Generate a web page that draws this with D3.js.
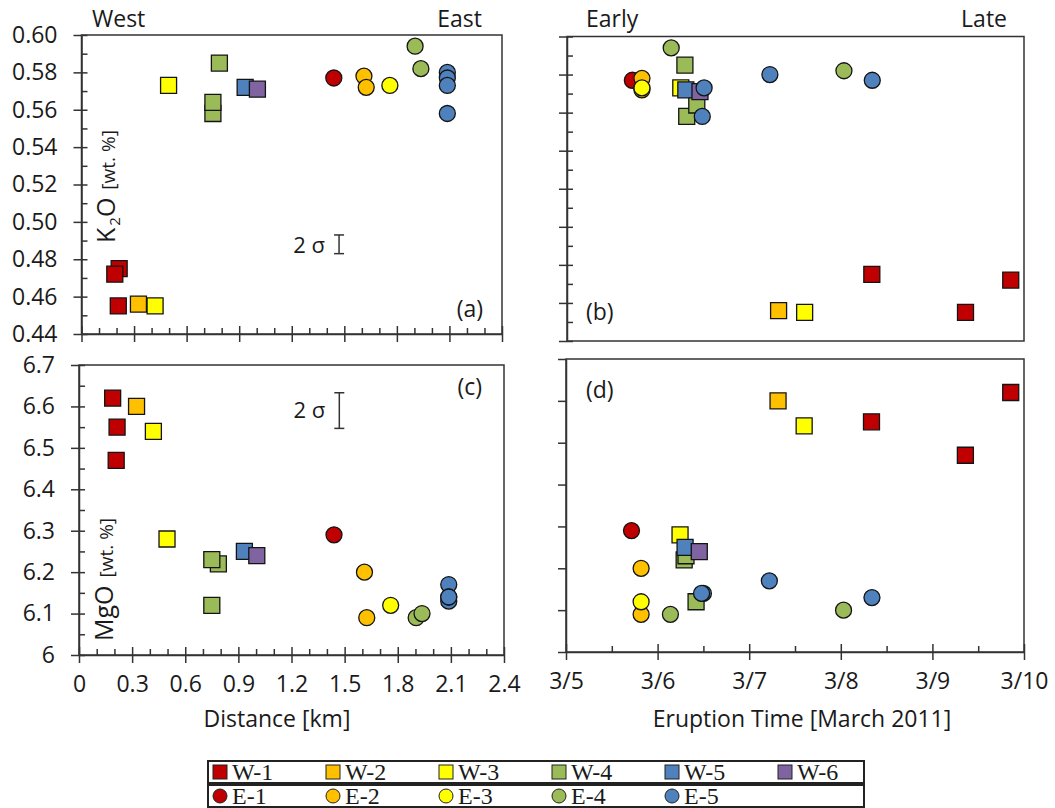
<!DOCTYPE html>
<html>
<head>
<meta charset="utf-8">
<script src="https://cdnjs.cloudflare.com/ajax/libs/d3/7.8.5/d3.min.js"></script>
<style>
  body { margin: 0; background: #fff; }
  svg { display: block; }
  text { font-family: "Open Sans", sans-serif; fill: #1a1a1a; }
  .legend text { font-family: "Liberation Serif", serif; }
  .axis path, .axis line { stroke: #333; stroke-width: 1.5; }
</style>
</head>
<body>
<script>
// vents: W = western squares, E = eastern circles
var seriesNames = ['W-1', 'W-2', 'W-3', 'W-4', 'W-5', 'W-6', 'E-1', 'E-2', 'E-3', 'E-4', 'E-5'];
var seriesFill  = ['#C00000', '#FFC000', '#FFFF00', '#9BBB59', '#4F81BD', '#8064A2',
                   '#C00000', '#FFC000', '#FFFF00', '#9BBB59', '#4F81BD'];

// one entry per sample
var sampleSeries = ['W-1', 'W-1', 'W-1', 'W-2', 'W-3', 'W-3', 'W-4', 'W-4', 'W-4', 'W-5', 'W-6',
                    'E-1', 'E-2', 'E-2', 'E-3', 'E-4', 'E-4', 'E-5', 'E-5', 'E-5', 'E-5'];
var distanceKm   = [0.215, 0.19, 0.21, 0.325, 0.42, 0.497, 0.787, 0.75, 0.75, 0.934, 1.004,
                    1.44, 1.612, 1.625, 1.76, 1.904, 1.937, 2.088, 2.088, 2.088, 2.088];
// day of March 2011
var eruptionDay  = [8.335, 9.855, 9.36, 7.315, 7.60, 6.245, 6.29, 6.31, 6.42, 6.30, 6.455,
                    5.715, 5.82, 5.82, 5.82, 6.14, 8.03, 7.22, 8.34, 6.50, 6.48];
var k2oWt        = [0.475, 0.472, 0.455, 0.456, 0.455, 0.573, 0.585, 0.558, 0.564, 0.572, 0.571,
                    0.577, 0.578, 0.572, 0.573, 0.594, 0.582, 0.580, 0.577, 0.573, 0.558];
var mgoWt        = [6.55, 6.62, 6.47, 6.60, 6.54, 6.28, 6.22, 6.23, 6.12, 6.25, 6.24,
                    6.29, 6.20, 6.09, 6.12, 6.09, 6.10, 6.17, 6.13, 6.14, 6.14];

// tick labels
var distTicks = [0, 0.3, 0.6, 0.9, 1.2, 1.5, 1.8, 2.1, 2.4];
var dayTicks  = [5, 6, 7, 8, 9, 10];
var k2oTicks  = [0.44, 0.46, 0.48, 0.50, 0.52, 0.54, 0.56, 0.58, 0.60];
var mgoTicks  = [6.0, 6.1, 6.2, 6.3, 6.4, 6.5, 6.6, 6.7];

// 2 sigma error bars: [x, centre, half width]
var sigmaK2O = [1.47, 0.488, 0.005];
var sigmaMgO = [1.47, 6.59, 0.043];

var W = 1055, H = 808;
var svg = d3.select('body').append('svg').attr('width', W).attr('height', H);
svg.append('rect').attr('width', W).attr('height', H).attr('fill', '#fff');

var noLabel = function(){ return ''; };
var fmtDist = function(d){ return d === 0 ? '0' : d.toFixed(1); };
var fmtDay  = function(d){ return '3/' + d; };
var fmtK2O  = d3.format('.2f');
var fmtMgO  = function(d){ return d === 6 ? '6' : d.toFixed(1); };

var distMinor = d3.range(1, 24).filter(function(i){ return i % 3 !== 0; }).map(function(i){ return i / 10; });
var dayMinor  = d3.range(5, 10).map(function(d){ return d + 0.5; });
var k2oMinor  = d3.range(45, 60, 2).map(function(i){ return i / 100; });
var mgoMinor  = d3.range(0, 7).map(function(i){ return 6.05 + i / 10; });

var panels = [
  {key: '(a)', xv: distanceKm, yv: k2oWt,
   x: d3.scaleLinear().domain([0, 2.4]).range([81.5, 502]),
   y: d3.scaleLinear().domain([0.44, 0.60]).range([334, 35]),
   xMajor: distTicks, xMinor: distMinor, xFmt: noLabel,
   yMajor: k2oTicks, yMinor: k2oMinor, yFmt: fmtK2O, yCross: true,
   label: [483, 317, 'end']},
  {key: '(b)', xv: eruptionDay, yv: k2oWt,
   x: d3.scaleLinear().domain([5, 10]).range([567, 1024]),
   y: d3.scaleLinear().domain([0.44, 0.60]).range([341, 36.5]),
   xMajor: null, yMajor: k2oTicks, yMinor: k2oMinor, yFmt: noLabel, yCross: true,
   label: [586, 320, 'start']},
  {key: '(c)', xv: distanceKm, yv: mgoWt,
   x: d3.scaleLinear().domain([0, 2.4]).range([79, 504]),
   y: d3.scaleLinear().domain([6.0, 6.7]).range([655, 365]),
   xMajor: distTicks, xMinor: distMinor, xFmt: fmtDist,
   yMajor: mgoTicks, yMinor: mgoMinor, yFmt: fmtMgO, yCross: true,
   label: [482, 395, 'end']},
  {key: '(d)', xv: eruptionDay, yv: mgoWt,
   x: d3.scaleLinear().domain([5, 10]).range([566, 1024]),
   y: d3.scaleLinear().domain([6.0, 6.7]).range([652, 359]),
   xMajor: dayTicks, xMinor: dayMinor, xFmt: fmtDay,
   yMajor: mgoTicks, yMinor: null, yFmt: noLabel, yCross: false,
   label: [586, 398, 'start']}
];

var symSquare = d3.symbol().type(d3.symbolSquare).size(16 * 16)();
var symCircle = d3.symbol().type(d3.symbolCircle).size(Math.PI * 8 * 8)();

panels.forEach(function(p){
  var g = svg.append('g');
  var x0 = p.x.range()[0], x1 = p.x.range()[1];
  var y0 = p.y.range()[1], y1 = p.y.range()[0];

  // frame
  g.append('rect')
    .attr('x', x0).attr('y', y0).attr('width', x1 - x0).attr('height', y1 - y0)
    .attr('fill', 'none').attr('stroke', '#333').attr('stroke-width', 1.5);

  // y axis
  var yAxis = d3.axisLeft(p.y).tickValues(p.yMajor).tickSize(8).tickSizeOuter(0).tickPadding(16)
    .tickFormat(p.yFmt);
  var ya = g.append('g').attr('class', 'axis').attr('transform', 'translate(' + x0 + ',0)').call(yAxis);
  if (p.yCross) ya.selectAll('.tick line').attr('x1', 6);
  ya.selectAll('text').style('font-size', '23px').attr('fill', '#1a1a1a');
  if (p.yMinor) {
    g.append('g').attr('class', 'axis').attr('transform', 'translate(' + x0 + ',0)')
      .call(d3.axisLeft(p.y).tickValues(p.yMinor).tickSize(-6).tickSizeOuter(0).tickFormat(''))
      .select('.domain').remove();
  }

  // x axis
  if (p.xMajor) {
    var xa = g.append('g').attr('class', 'axis').attr('transform', 'translate(0,' + y1 + ')')
      .call(d3.axisBottom(p.x).tickValues(p.xMajor).tickSize(8).tickSizeOuter(0).tickPadding(13).tickFormat(p.xFmt));
    xa.selectAll('.tick line').attr('y1', -8);
    xa.selectAll('text').style('font-size', '23px').attr('fill', '#1a1a1a');
    g.append('g').attr('class', 'axis').attr('transform', 'translate(0,' + y1 + ')')
      .call(d3.axisBottom(p.x).tickValues(p.xMinor).tickSize(-6).tickSizeOuter(0).tickFormat(''))
      .select('.domain').remove();
  }

  // samples
  g.selectAll('path.pt')
    .data(d3.range(sampleSeries.length))
    .join('path')
    .attr('class', 'pt')
    .attr('d', function(i){ return sampleSeries[i][0] === 'W' ? symSquare : symCircle; })
    .attr('transform', function(i){ return 'translate(' + p.x(p.xv[i]) + ',' + p.y(p.yv[i]) + ')'; })
    .attr('fill', function(i){ return seriesFill[seriesNames.indexOf(sampleSeries[i])]; })
    .attr('stroke', '#141414').attr('stroke-width', 1.3);

  g.append('text')
    .attr('x', p.label[0]).attr('y', p.label[1]).attr('text-anchor', p.label[2])
    .style('font-size', '23px').text(p.key);
});

// 2 sigma bars
function sigmaBar(p, s, textY) {
  var bx = p.x(s[0]);
  var g = svg.append('g').attr('stroke', '#333').attr('stroke-width', 1.5);
  g.append('line').attr('x1', bx).attr('x2', bx).attr('y1', p.y(s[1] + s[2])).attr('y2', p.y(s[1] - s[2]));
  [s[1] + s[2], s[1] - s[2]].forEach(function(v){
    g.append('line').attr('x1', bx - 5).attr('x2', bx + 5).attr('y1', p.y(v)).attr('y2', p.y(v));
  });
  svg.append('text').attr('x', bx - 14).attr('y', textY).attr('text-anchor', 'end')
    .style('font-size', '22px').text('2 σ');
}
sigmaBar(panels[0], sigmaK2O, 253);
sigmaBar(panels[2], sigmaMgO, 418);

// direction labels
var tops = [['West', 92, 'start'], ['East', 482, 'end'], ['Early', 586, 'start'], ['Late', 1007, 'end']];
tops.forEach(function(t){
  svg.append('text').attr('x', t[1]).attr('y', 27).attr('text-anchor', t[2])
    .style('font-size', '23px').text(t[0]);
});

// y titles
function yTitle(x, y, main, sub, rest) {
  var t = svg.append('text').attr('transform', 'translate(' + x + ',' + y + ') rotate(-90)');
  t.append('tspan').style('font-size', '25px').text(main[0]);
  if (sub) {
    t.append('tspan').style('font-size', '15px').attr('dx', 2).attr('dy', 5).text(sub);
    t.append('tspan').style('font-size', '25px').attr('dy', -5).text(main[1]);
  }
  t.append('tspan').style('font-size', '19px').attr('dx', 8).text(rest);
}
yTitle(115, 243, ['K', 'O'], '2', '[wt. %]');
yTitle(113, 641, ['MgO'], null, '[wt. %]');

// x titles
svg.append('text').attr('x', 277).attr('y', 727).attr('text-anchor', 'middle')
  .style('font-size', '23px').text('Distance [km]');
svg.append('text').attr('x', 802).attr('y', 727).attr('text-anchor', 'middle')
  .style('font-size', '23px').text('Eruption Time [March 2011]');

// legend
var legendRows = [seriesNames.slice(0, 6), seriesNames.slice(6)];
var leg = svg.append('g').attr('class', 'legend');
legendRows.forEach(function(row, r){
  var top = 761 + r * 24;
  leg.append('rect').attr('x', 208).attr('y', top).attr('width', 656).attr('height', 22)
    .attr('fill', '#fff').attr('stroke', '#222').attr('stroke-width', 2);
  row.forEach(function(name, i){
    var lx = 213 + i * 113, cy = top + 11;
    var idx = seriesNames.indexOf(name);
    if (name[0] === 'W') {
      leg.append('rect').attr('x', lx).attr('y', cy - 7).attr('width', 14).attr('height', 14)
        .attr('fill', seriesFill[idx]).attr('stroke', '#222').attr('stroke-width', 1);
    } else {
      leg.append('circle').attr('cx', lx + 7).attr('cy', cy).attr('r', 7)
        .attr('fill', seriesFill[idx]).attr('stroke', '#222').attr('stroke-width', 1);
    }
    leg.append('text').attr('x', lx + 19).attr('y', cy + 8).style('font-size', '24px').text(name);
  });
});
</script>
</body>
</html>
